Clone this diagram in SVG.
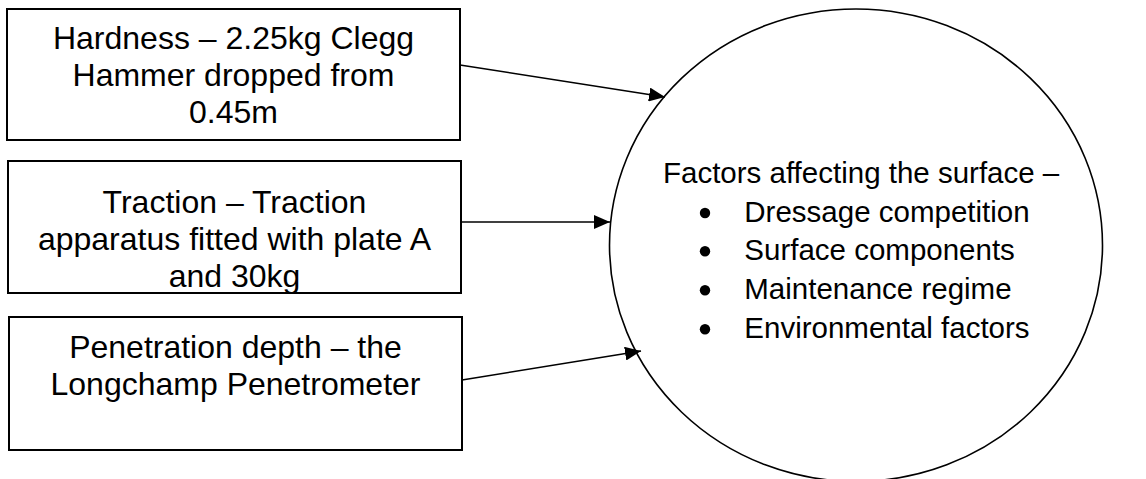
<svg xmlns="http://www.w3.org/2000/svg" width="1146" height="479" viewBox="0 0 1146 479">
  <style>
    .box { fill: #ffffff; stroke: #000000; stroke-width: 2; }
    .ell { fill: #ffffff; stroke: #000000; stroke-width: 1.6; }
    .t { font-family: "Liberation Sans", Arial, sans-serif; font-size: 32px; fill: #000000; text-anchor: middle; }
    .e { font-family: "Liberation Sans", Arial, sans-serif; font-size: 29.5px; fill: #000000; }
    .conn { stroke: #000000; stroke-width: 1.6; fill: none; marker-end: url(#arrow); }
  </style>
  <defs>
    <marker id="arrow" markerUnits="userSpaceOnUse" markerWidth="16" markerHeight="14" refX="16" refY="7" orient="auto">
      <path d="M0,0 L16,7 L0,14 Z" fill="#000000"/>
    </marker>
  </defs>
  <rect x="0" y="0" width="1146" height="479" fill="#ffffff"/>

  <g id="node-hardness">
    <rect class="box" x="7" y="9" width="453" height="131"/>
    <text class="t" x="233.5" y="49.3">Hardness – 2.25kg Clegg</text>
    <text class="t" x="233.5" y="86">Hammer dropped from</text>
    <text class="t" x="233.5" y="122.7">0.45m</text>
  </g>

  <g id="node-traction">
    <rect class="box" x="8" y="161" width="453" height="132"/>
    <text class="t" x="234.5" y="213.3">Traction – Traction</text>
    <text class="t" x="234.5" y="250">apparatus fitted with plate A</text>
    <text class="t" x="234.5" y="286.7">and 30kg</text>
  </g>

  <g id="node-penetration">
    <rect class="box" x="9" y="317" width="453" height="133"/>
    <text class="t" x="235.5" y="358.3">Penetration depth – the</text>
    <text class="t" x="235.5" y="395">Longchamp Penetrometer</text>
  </g>

  <g id="node-factors">
    <ellipse class="ell" cx="856" cy="245.2" rx="246.5" ry="236.2"/>
    <text class="e" x="663" y="183">Factors affecting the surface –</text>
    <circle cx="705" cy="213" r="5.2" fill="#000000"/>
    <text class="e" x="744.3" y="221.7">Dressage competition</text>
    <circle cx="705" cy="251.3" r="5.2" fill="#000000"/>
    <text class="e" x="744.3" y="260">Surface components</text>
    <circle cx="705" cy="290.3" r="5.2" fill="#000000"/>
    <text class="e" x="744.3" y="299">Maintenance regime</text>
    <circle cx="705" cy="329.3" r="5.2" fill="#000000"/>
    <text class="e" x="744.3" y="338">Environmental factors</text>
  </g>

  <g id="connectors">
    <line class="conn" x1="460" y1="65" x2="665" y2="97"/>
    <line class="conn" x1="461" y1="222" x2="610" y2="222"/>
    <line class="conn" x1="462" y1="380" x2="641" y2="351"/>
  </g>
</svg>
